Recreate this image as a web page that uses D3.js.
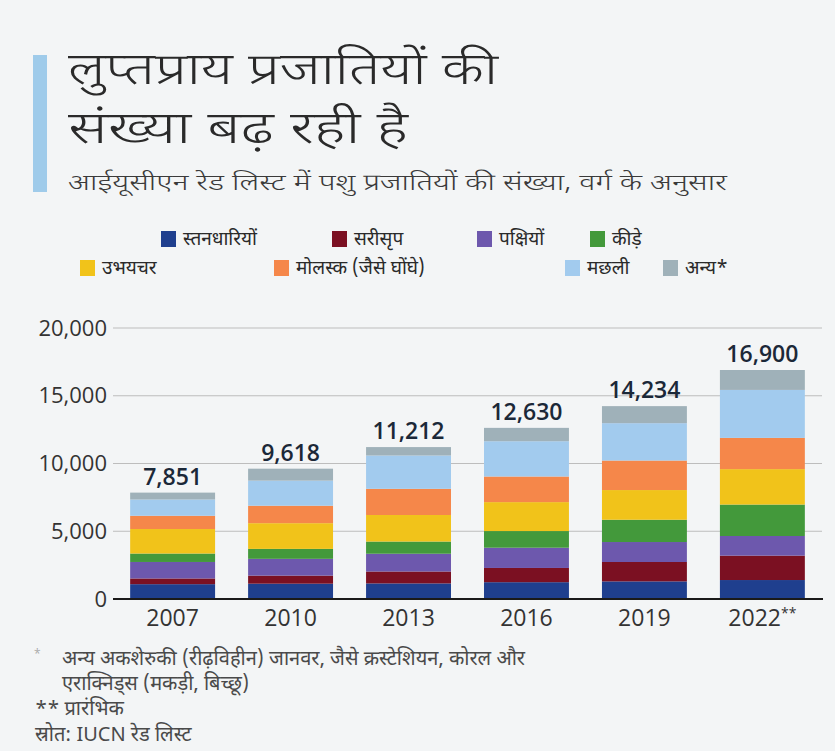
<!DOCTYPE html>
<html><head><meta charset="utf-8">
<script src="https://cdn.jsdelivr.net/npm/d3@7"></script>
<style>
html,body{margin:0;padding:0;background:#f3f5f6;}
svg{display:block;}
</style></head>
<body>
<script>
// ---- data ----
const years = ["2007","2010","2013","2016","2019","2022"];
const yearSuffix = ["","","","","","**"];
const seriesKeys = ["mammals","reptiles","birds","insects","amphibians","molluscs","fishes","others"];
const seriesNames = ["स्तनधारियों","सरीसृप","पक्षियों","कीड़े","उभयचर","मोलस्क (जैसे घोंघे)","मछली","अन्य*"];
const seriesColors = ["#1f3f8e","#7b1022","#6d58ad","#43993b","#f1c31a","#f5874a","#a2cbee","#9fb1b9"];
const mammals    = [1094, 1131, 1150, 1240, 1300, 1400];
const reptiles   = [ 422,  594,  880, 1050, 1430, 1800];
const birds      = [1217, 1240, 1310, 1495, 1475, 1450];
const insects    = [ 623,  733,  900, 1230, 1645, 2320];
const amphibians = [1808, 1898, 1960, 2135, 2190, 2615];
const molluscs   = [ 978, 1288, 1930, 1890, 2180, 2305];
const fishes     = [1201, 1851, 2460, 2605, 2755, 3540];
const others     = [ 508,  883,  622,  985, 1259, 1470];
const yTicks = [0, 5000, 10000, 15000, 20000];

const title1 = "लुप्तप्राय प्रजातियों की";
const title2 = "संख्या बढ़ रही है";
const subtitle = "आईयूसीएन रेड लिस्ट में पशु प्रजातियों की संख्या, वर्ग के अनुसार";
const notes = ["अन्य अकशेरुकी (रीढ़विहीन) जानवर, जैसे क्रस्टेशियन, कोरल और",
               "एराक्निड्स (मकड़ी, बिच्छू)",
               "** प्रारंभिक",
               "स्रोत: IUCN रेड लिस्ट"];

const seriesValues = [mammals, reptiles, birds, insects, amphibians, molluscs, fishes, others];
const table = years.map((y,i)=>{
  const o = {year:y};
  seriesKeys.forEach((k,j)=>o[k]=seriesValues[j][i]);
  return o;
});

const W=835,H=751;
const svg = d3.select("body").append("svg").attr("width",W).attr("height",H);
svg.append("rect").attr("width",W).attr("height",H).attr("fill","#f3f5f6");

const devFont = "'Noto Sans Devanagari','Noto Sans','Lohit Devanagari',sans-serif";
const numFont = "'Open Sans','Noto Sans',sans-serif";

// title block
svg.append("rect").attr("x",33).attr("y",55).attr("width",14).attr("height",137).attr("fill","#9fcbea");
svg.append("text").attr("x",68).attr("y",84).text(title1)
  .attr("font-family",devFont).attr("font-weight",300).attr("font-size",44).attr("fill","#2a2a2a")
  .attr("textLength",430).attr("lengthAdjust","spacingAndGlyphs");
svg.append("text").attr("x",68).attr("y",143).text(title2)
  .attr("font-family",devFont).attr("font-weight",300).attr("font-size",44).attr("fill","#2a2a2a")
  .attr("textLength",340).attr("lengthAdjust","spacingAndGlyphs");
svg.append("text").attr("x",68).attr("y",190).text(subtitle)
  .attr("font-family",devFont).attr("font-weight",300).attr("font-size",23).attr("fill","#3a3a3a")
  .attr("textLength",659).attr("lengthAdjust","spacingAndGlyphs");

// legend layout
const legendPos = [[161,231],[332,231],[477,231],[590,231],[80,260],[274,260],[565,260],[663,260]];
const lg = svg.append("g");
seriesKeys.forEach((k,i)=>{
  const [lx,ly] = legendPos[i];
  lg.append("rect").attr("x",lx).attr("y",ly).attr("width",15).attr("height",16).attr("fill",seriesColors[i]);
  lg.append("text").attr("x",lx+22).attr("y",ly+14).text(seriesNames[i])
    .attr("font-family",devFont).attr("font-size",19).attr("fill","#2a2a2a");
});

// scales
const x = d3.scaleBand().domain(years).range([116,819]).paddingInner(0.28).paddingOuter(0.12);
const y = d3.scaleLinear().domain([0,20000]).range([599,328]);

// grid + y axis
const yAxis = d3.axisLeft(y).tickValues(yTicks).tickFormat(d3.format(",")).tickSize(0).tickPadding(6);
const ga = svg.append("g").attr("transform","translate(113,0)").call(yAxis);
ga.select(".domain").remove();
ga.selectAll("text").attr("font-family",numFont).attr("font-size",22).attr("fill","#333");
svg.append("g").selectAll("line").data(yTicks.filter(d=>d>0)).join("line")
  .attr("x1",113).attr("x2",822).attr("y1",d=>y(d)).attr("y2",d=>y(d))
  .attr("stroke","#bdbdbd").attr("stroke-width",1);

// stacked bars
const stack = d3.stack().keys(seriesKeys)(table);
svg.append("g").selectAll("g").data(stack).join("g")
  .attr("fill",(d,i)=>seriesColors[i])
  .selectAll("rect").data(d=>d).join("rect")
  .attr("x",d=>x(d.data.year)).attr("width",x.bandwidth())
  .attr("y",d=>y(d[1])).attr("height",d=>y(d[0])-y(d[1]));

// totals
const totals = table.map(r=>d3.sum(seriesKeys,k=>r[k]));
svg.append("g").selectAll("text").data(years).join("text")
  .attr("x",d=>x(d)+x.bandwidth()/2).attr("y",(d,i)=>y(totals[i])-8)
  .attr("text-anchor","middle").attr("font-family",numFont).attr("font-weight",600)
  .attr("font-size",23).attr("fill","#1b2838").text((d,i)=>d3.format(",")(totals[i]));

// x axis
svg.append("line").attr("x1",113).attr("x2",823).attr("y1",599).attr("y2",599).attr("stroke","#1a1a1a").attr("stroke-width",2);
const xl = svg.append("g").selectAll("text").data(years).join("text")
  .attr("x",d=>x(d)+x.bandwidth()/2).attr("y",626)
  .attr("text-anchor","middle").attr("font-family",numFont).attr("font-size",23).attr("fill","#333");
xl.append("tspan").text(d=>d);
xl.append("tspan").text((d,i)=>yearSuffix[i]).attr("font-size",14).attr("dy",-8);

// notes
svg.append("text").attr("x",34).attr("y",658).text("*").attr("font-family",numFont).attr("font-size",12).attr("fill","#aaa");
const ny = [665,690,715,741];
const nx = [62,62,35,35];
notes.forEach((t,i)=>{
  svg.append("text").attr("x",nx[i]).attr("y",ny[i]).text(t)
    .attr("font-family",devFont).attr("font-size",20).attr("fill","#4a4a4a");
});
</script>
</body></html>
